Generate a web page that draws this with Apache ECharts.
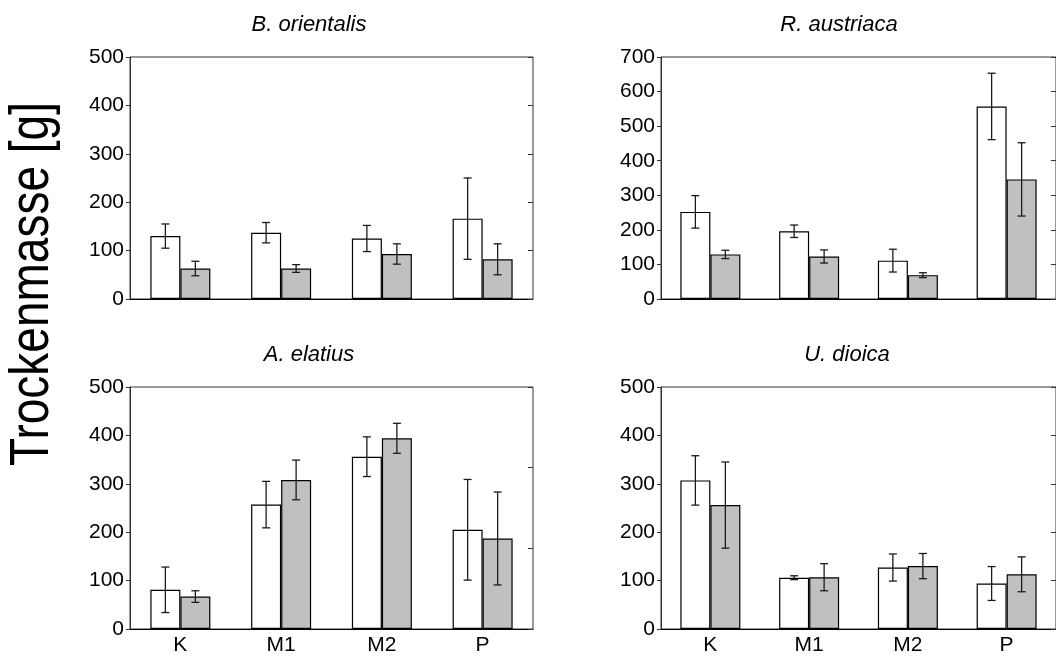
<!DOCTYPE html>
<html>
<head>
<meta charset="utf-8">
<script src="https://cdn.jsdelivr.net/npm/echarts@6/dist/echarts.min.js"></script>
<style>
  html, body { margin: 0; padding: 0; background: #fff; }
  #chart { width: 1056px; height: 657px; }
</style>
</head>
<body>
<div id="chart"></div>
<script>
// Treatment categories on the x axis
const categories = ['K', 'M1', 'M2', 'P'];
const speciesNames = ['B. orientalis', 'R. austriaca', 'A. elatius', 'U. dioica'];
const yMax = [500, 700, 500, 500];
const yStep = 100;

// B. orientalis: means and standard deviations (open / shaded bars)
const orientalisOpen = [130, 137, 125, 166];
const orientalisOpenSd = [25, 21, 27, 84];
const orientalisShaded = [63, 63, 93, 82];
const orientalisShadedSd = [15, 8, 21, 32];

// R. austriaca
const austriacaOpen = [252, 196, 111, 557];
const austriacaOpenSd = [47, 18, 33, 96];
const austriacaShaded = [129, 123, 69, 346];
const austriacaShadedSd = [12, 19, 7, 106];

// A. elatius
const elatiusOpen = [81, 257, 356, 205];
const elatiusOpenSd = [47, 48, 41, 104];
const elatiusShaded = [67, 308, 394, 187];
const elatiusShadedSd = [12, 41, 31, 96];

// U. dioica
const dioicaOpen = [307, 106, 127, 94];
const dioicaOpenSd = [51, 4, 28, 35];
const dioicaShaded = [256, 107, 130, 113];
const dioicaShadedSd = [89, 28, 26, 36];

const panelData = [
  [orientalisOpen, orientalisOpenSd, orientalisShaded, orientalisShadedSd],
  [austriacaOpen, austriacaOpenSd, austriacaShaded, austriacaShadedSd],
  [elatiusOpen, elatiusOpenSd, elatiusShaded, elatiusShadedSd],
  [dioicaOpen, dioicaOpenSd, dioicaShaded, dioicaShadedSd]
];

const FONT = '"Liberation Sans", Arial, Helvetica, sans-serif';
const BAR_W = 30;
const CAP = 4;
const INK = '#000';

const gridBoxes = [
  { left: 130, top: 57 },
  { left: 661, top: 57 },
  { left: 130, top: 387 },
  { left: 661, top: 387 }
];
const titlePos = [[309, 25], [839, 25], [309, 355], [847, 355]];

function errorRenderer(side) {
  return function (params, api) {
    const cat = api.value(0);
    const p1 = api.coord([cat, api.value(2)]);
    const p0 = api.coord([cat, api.value(1)]);
    const cx = p1[0] + side * BAR_W / 2;
    const st = { stroke: '#1a1a1a', lineWidth: 1.3 };
    return {
      type: 'group',
      children: [
        { type: 'line', shape: { x1: cx, y1: p1[1], x2: cx, y2: p0[1] }, style: st },
        { type: 'line', shape: { x1: cx - CAP, y1: p1[1], x2: cx + CAP, y2: p1[1] }, style: st },
        { type: 'line', shape: { x1: cx - CAP, y1: p0[1], x2: cx + CAP, y2: p0[1] }, style: st }
      ]
    };
  };
}

const grid = [], xAxis = [], yAxis = [], series = [], graphic = [];

panelData.forEach((d, i) => {
  const [openM, openSd, shadeM, shadeSd] = d;
  const bottomRow = i >= 2;
  grid.push({
    left: gridBoxes[i].left, top: gridBoxes[i].top, width: 403, height: 242,
    show: true, borderColor: '#333', borderWidth: 1, backgroundColor: 'transparent'
  });
  xAxis.push({
    type: 'category', gridIndex: i, data: categories,
    axisTick: { show: false },
    axisLine: { lineStyle: { color: INK, width: 1 } },
    axisLabel: { show: bottomRow, color: INK, fontSize: 21, fontFamily: FONT, margin: 6 },
    splitLine: { show: false }
  });
  yAxis.push({
    type: 'value', gridIndex: i, min: 0, max: yMax[i], interval: yStep,
    axisLine: { show: true, lineStyle: { color: '#333', width: 1 } },
    axisTick: { show: true, length: 4, lineStyle: { color: '#333' } },
    axisLabel: { color: INK, fontSize: 21, fontFamily: FONT, margin: 6 },
    splitLine: { show: false }
  });
  yAxis.push({
    type: 'value', gridIndex: i, position: 'right', min: 0, max: yMax[i],
    interval: i === 2 ? yMax[i] / 3 : yStep,
    axisLine: { show: false },
    axisTick: { show: true, inside: true, length: 5, lineStyle: { color: '#333' } },
    axisLabel: { show: false },
    splitLine: { show: false }
  });
  const yIdx = i * 2;
  series.push({
    type: 'bar', xAxisIndex: i, yAxisIndex: yIdx, data: openM,
    barWidth: BAR_W, barGap: '0%',
    itemStyle: { color: '#fff', borderColor: INK, borderWidth: 1.2 },
    emphasis: { disabled: true }, animation: false
  });
  series.push({
    type: 'bar', xAxisIndex: i, yAxisIndex: yIdx, data: shadeM,
    barWidth: BAR_W, barGap: '0%',
    itemStyle: { color: '#c0c0c0', borderColor: INK, borderWidth: 1.2 },
    emphasis: { disabled: true }, animation: false
  });
  series.push({
    type: 'custom', xAxisIndex: i, yAxisIndex: yIdx, z: 5,
    renderItem: errorRenderer(-1),
    data: openM.map((m, k) => [k, m - openSd[k], m + openSd[k]]),
    animation: false, silent: true
  });
  series.push({
    type: 'custom', xAxisIndex: i, yAxisIndex: yIdx, z: 5,
    renderItem: errorRenderer(1),
    data: shadeM.map((m, k) => [k, m - shadeSd[k], m + shadeSd[k]]),
    animation: false, silent: true
  });
  graphic.push({
    type: 'text', x: titlePos[i][0], y: titlePos[i][1],
    style: {
      text: speciesNames[i], font: 'italic 22px ' + FONT, fill: INK,
      align: 'center', verticalAlign: 'middle',
      textAlign: 'center', textVerticalAlign: 'middle'
    }
  });
});

graphic.push({
  type: 'text', x: 33, y: 284, rotation: Math.PI / 2, scaleY: 1.2,
  style: {
    text: 'Trockenmasse [g]', font: '46px ' + FONT, fill: INK,
    align: 'center', verticalAlign: 'middle',
    textAlign: 'center', textVerticalAlign: 'middle'
  }
});

const chart = echarts.init(document.getElementById('chart'), null, { renderer: 'canvas' });
chart.setOption({
  backgroundColor: '#fff',
  animation: false,
  grid, xAxis, yAxis, series, graphic
});
</script>
</body>
</html>
